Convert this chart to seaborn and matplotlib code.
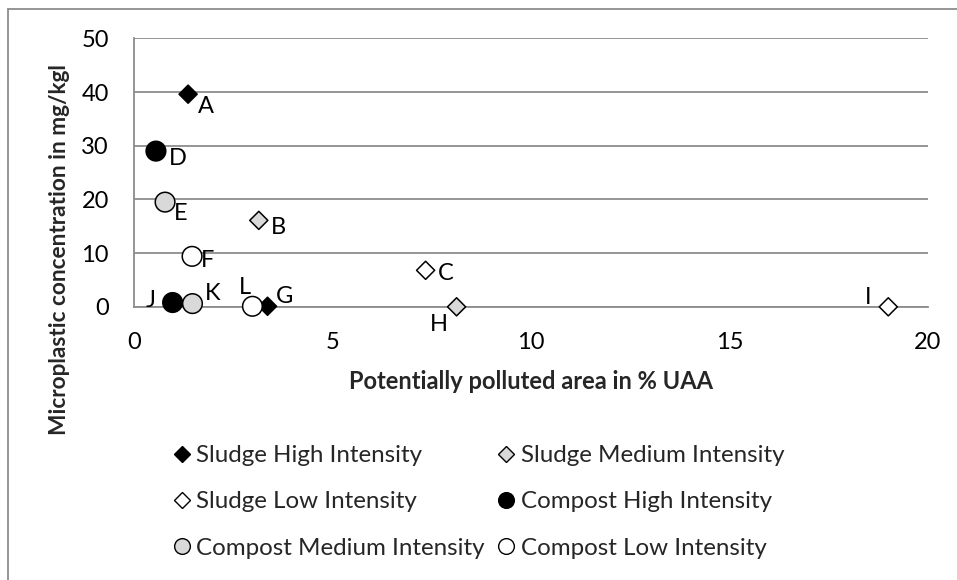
import matplotlib.pyplot as plt
import pandas as pd
import seaborn as sns
from matplotlib.lines import Line2D
from matplotlib.patches import Rectangle

# values
point_labels = ["A", "B", "C", "D", "E", "F", "G", "H", "I", "J", "K", "L"]
area_pct = [1.37, 3.15, 7.35, 0.56, 0.79, 1.47, 3.37, 8.13, 19.0, 0.98, 1.48, 2.99]
concentration = [39.6, 16.1, 6.8, 29.0, 19.5, 9.4, 0.1, 0.0, 0.0, 0.8, 0.6, 0.1]
groups = ["Sludge High Intensity", "Sludge Medium Intensity", "Sludge Low Intensity",
          "Compost High Intensity", "Compost Medium Intensity", "Compost Low Intensity",
          "Sludge High Intensity", "Sludge Medium Intensity", "Sludge Low Intensity",
          "Compost High Intensity", "Compost Medium Intensity", "Compost Low Intensity"]
group_order = ["Sludge High Intensity", "Sludge Medium Intensity", "Sludge Low Intensity",
               "Compost High Intensity", "Compost Medium Intensity", "Compost Low Intensity"]
x_ticks = [0, 5, 10, 15, 20]
y_ticks = [0, 10, 20, 30, 40, 50]

fills = {"Sludge High Intensity": "black", "Sludge Medium Intensity": "#d9d9d9",
         "Sludge Low Intensity": "white", "Compost High Intensity": "black",
         "Compost Medium Intensity": "#d9d9d9", "Compost Low Intensity": "white"}
shapes = {g: ("D" if g.startswith("Sludge") else "o") for g in group_order}

# where each data label sits relative to its point (pixels, right / up)
label_offsets = {"A": (18, -12), "B": (20, -7), "C": (20, -3), "D": (22, -7),
                 "E": (16, -11), "F": (15, -4), "G": (17, 10), "H": (-18, -18),
                 "I": (-20, 9), "J": (-22, 2), "K": (20, 10), "L": (-8, 19)}

df = pd.DataFrame({"label": point_labels, "area": area_pct,
                   "conc": concentration, "group": groups})

sns.set_style("white")
plt.rcParams["font.family"] = ["Lato", "DejaVu Sans"]
FS = 17
GRAY = "#8c8c8c"

fig = plt.figure(figsize=(9.57, 5.8), dpi=100)
ax = fig.add_axes([0.1397, 0.4710, 0.8300, 0.4629])

sludge = df[df["group"].str.startswith("Sludge")]
compost = df[df["group"].str.startswith("Compost")]
sns.scatterplot(data=sludge, x="area", y="conc", hue="group", palette=fills,
                style="group", markers=shapes, s=85, edgecolor="black",
                linewidth=1.1, legend=False, ax=ax, zorder=3)
sns.scatterplot(data=compost, x="area", y="conc", hue="group", palette=fills,
                style="group", markers=shapes, s=200, edgecolor="black",
                linewidth=1.1, legend=False, ax=ax, zorder=3)
for coll in ax.collections:
    coll.set_clip_on(False)

for _, row in df.iterrows():
    ax.annotate(row["label"], (row["area"], row["conc"]),
                xytext=label_offsets[row["label"]], textcoords="offset pixels",
                ha="center", va="center", fontsize=FS, color="black")

ax.set_xlim(0, 20)
ax.set_ylim(0, 50)
ax.set_xticks(x_ticks)
ax.set_yticks(y_ticks)
ax.yaxis.grid(True, color=GRAY, lw=1.3)
ax.xaxis.grid(False)
ax.set_axisbelow(True)
for side in ["top", "right"]:
    ax.spines[side].set_visible(False)
for side in ["left", "bottom"]:
    ax.spines[side].set_color(GRAY)
    ax.spines[side].set_linewidth(1.3)
ax.tick_params(axis="both", direction="out", length=5.8, width=1.3, color=GRAY,
               labelsize=FS, labelcolor="black")
ax.tick_params(axis="y", pad=12)
ax.tick_params(axis="x", pad=12)

ax.set_xlabel("Potentially polluted area in % UAA", fontsize=FS, fontweight="bold")
ax.xaxis.label.set_va("center")
ax.xaxis.set_label_coords(0.5, -0.279)
ax.set_ylabel("Microplastic concentration in mg/kgl", fontsize=16.3, fontweight="bold")
ax.yaxis.label.set_va("center")
ax.yaxis.set_label_coords(-0.0928, 0.2115)


def handle(g):
    if shapes[g] == "D":
        return Line2D([], [], ls="none", marker="D", ms=8.3, mfc=fills[g],
                      mec="black", mew=1.0)
    return Line2D([], [], ls="none", marker="o", ms=11.3, mfc=fills[g],
                  mec="black", mew=1.0)


col1 = ["Sludge High Intensity", "Sludge Low Intensity", "Compost Medium Intensity"]
col2 = ["Sludge Medium Intensity", "Compost High Intensity", "Compost Low Intensity"]
for names, x0 in [(col1, 173.4), (col2, 497.7)]:
    fig.legend([handle(g) for g in names], names, loc="upper left",
               bbox_to_anchor=(x0 / 957, 1 - 445 / 580), frameon=False,
               fontsize=17.4, handlelength=0.7, handletextpad=0.25,
               labelspacing=1.05, borderpad=0, borderaxespad=0)

fig.patches.append(Rectangle((8 / 957, -0.1), 1.2, 1.0845, transform=fig.transFigure,
                             fill=False, edgecolor=GRAY, lw=1.3))

fig.savefig("out.png", dpi=100)
